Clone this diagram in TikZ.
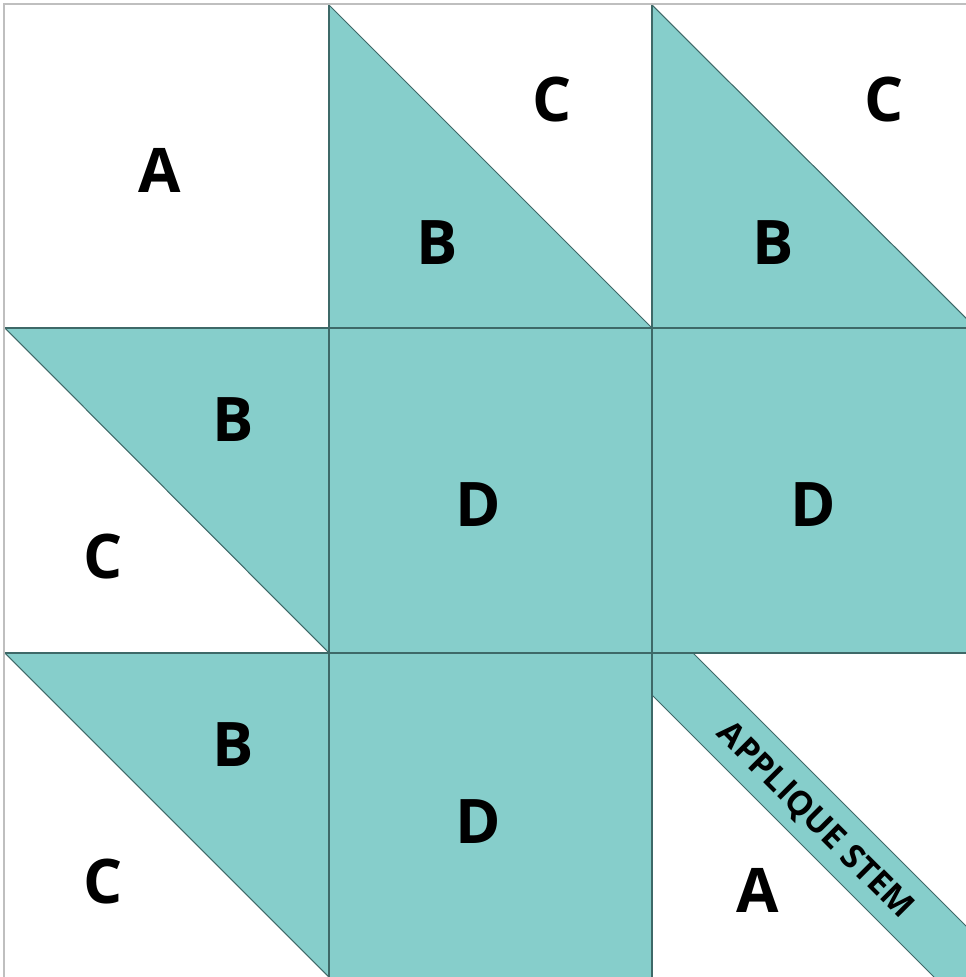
\documentclass[tikz,border=0pt]{standalone}
\usepackage{fontspec}
\setmainfont{Open Sans}
\definecolor{quiltteal}{RGB}{134,206,203}
\definecolor{seamline}{RGB}{62,105,104}

\begin{document}
\begin{tikzpicture}[x=0.02cm, y=-0.02cm,
  patch/.style={fill=quiltteal},
  seam/.style={draw=seamline, line width=0.6pt},
  edge/.style={draw=black!25, line width=1.1pt},
  lbl/.style={font=\fontsize{35}{40}\selectfont\bfseries, inner sep=0pt},
  stemlbl/.style={font=\fontsize{19}{22}\selectfont\bfseries, inner sep=0pt, rotate=-45},
]
  \useasboundingbox (0,0) rectangle (966,977);
  \clip (0,0) rectangle (966,977);

  % solid squares
  \fill[patch] (329,328) rectangle (976,653);
  \fill[patch] (329,653) rectangle (652,977);

  % half-square triangles
  \fill[patch] (329,5) -- (652,328) -- (329,328) -- cycle;
  \fill[patch] (652,5) -- (976,328) -- (652,328) -- cycle;
  \fill[patch] (5,328) -- (329,328) -- (329,653) -- cycle;
  \fill[patch] (5,653) -- (329,653) -- (329,977) -- cycle;

  % stem strip
  \fill[patch] (652,653) -- (693,653) -- (976,936) -- (976,977) -- (934,977) -- (652,695) -- cycle;

  % seams
  \draw[seam] (329,5) -- (329,977);
  \draw[seam] (652,5) -- (652,977);
  \draw[seam] (5,328) -- (966,328);
  \draw[seam] (5,653) -- (966,653);
  \draw[seam] (329,5) -- (652,328);
  \draw[seam] (652,5) -- (976,328);
  \draw[seam] (5,328) -- (329,653);
  \draw[seam] (5,653) -- (329,977);
  \draw[seam] (693,653) -- (976,936);
  \draw[seam] (652,695) -- (934,977);

  % outer edge
  \draw[edge] (4,977) -- (4,4) -- (966,4);

  % labels
  \node[lbl] (a1) at (160,170) {A};
  \node[lbl] (c1) at (552,100) {C};
  \node[lbl] (b1) at (437,243) {B};
  \node[lbl] (c2) at (884,100) {C};
  \node[lbl] (b2) at (773,243) {B};
  \node[lbl] (b3) at (233,420) {B};
  \node[lbl] (c3) at (103,557) {C};
  \node[lbl] (d1) at (478,505) {D};
  \node[lbl] (d2) at (813,505) {D};
  \node[lbl] (b4) at (233,745) {B};
  \node[lbl] (c4) at (103,882) {C};
  \node[lbl] (d3) at (478,822) {D};
  \node[lbl] (a2) at (758,890) {A};
  \node[stemlbl] (stem) at (815,821) {APPLIQUE STEM};
\end{tikzpicture}
\end{document}
